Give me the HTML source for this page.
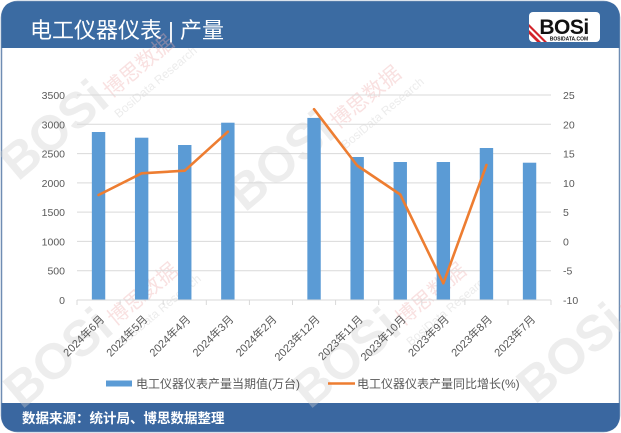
<!DOCTYPE html>
<html><head><meta charset="utf-8">
<style>
html,body{margin:0;padding:0;background:#fff;}
svg{display:block;}
text{font-family:"Liberation Sans","Noto Sans CJK SC",sans-serif;}
</style></head>
<body>
<svg width="621" height="433" viewBox="0 0 621 433" xmlns="http://www.w3.org/2000/svg">
  <!-- card -->
  <rect x="1.5" y="1.5" width="618" height="430" rx="16" ry="16" fill="#fff" stroke="#6f8db3" stroke-width="1.5"/>
  <!-- header -->
  <path d="M1.5,48 L1.5,17.5 Q1.5,1.5 17.5,1.5 L603.5,1.5 Q619.5,1.5 619.5,17.5 L619.5,48 Z" fill="#3b6ba2"/>
  <text x="30" y="38" font-size="22" fill="#fff">电工仪器仪表 | 产量</text>
  <!-- logo -->
  <rect x="529" y="12" width="71" height="30" rx="4" fill="#fff"/>
  <g clip-path="url(#lg)">
    <clipPath id="lg"><rect x="529" y="12" width="71" height="30" rx="4"/></clipPath>
    <path d="M529,30 L541,42 L537,42 L529,34 Z" fill="#d2232a"/>
    <path d="M529,24 L547,42 L544,42 L529,27 Z" fill="#d2232a"/>
  </g>
  <text x="564" y="34" font-size="21" font-weight="bold" fill="#111" text-anchor="middle" letter-spacing="-0.5">BOSi</text>
  <text x="569" y="40.5" font-size="5" font-weight="bold" fill="#111" text-anchor="middle">BOSIDATA.COM</text>

  <!-- footer -->
  <path d="M1.5,403 L619.5,403 L619.5,415.5 Q619.5,431.5 603.5,431.5 L17.5,431.5 Q1.5,431.5 1.5,415.5 Z" fill="#3a67a0"/>
  <text x="22" y="423" font-size="13.5" font-weight="bold" fill="#fff">数据来源：统计局、博思数据整理</text>

  <!-- watermarks -->
  <g opacity="0.38">
    <g transform="translate(18,182) rotate(-40)">
      <text x="0" y="0" font-size="50" font-weight="bold" fill="#d0d0d0">BOSi</text>
      <text x="125" y="-4" font-size="21" fill="#eeb0b0">博思数据</text>
      <text x="118" y="16" font-size="12" fill="#cccccc" font-family="Liberation Serif,serif">BosiData Research</text>
    </g>
    <g transform="translate(245,213) rotate(-40)">
      <text x="0" y="0" font-size="50" font-weight="bold" fill="#d0d0d0">BOSi</text>
      <text x="125" y="-4" font-size="21" fill="#eeb0b0">博思数据</text>
      <text x="118" y="16" font-size="12" fill="#cccccc" font-family="Liberation Serif,serif">BosiData Research</text>
    </g>
    <g transform="translate(22,410) rotate(-40)">
      <text x="0" y="0" font-size="50" font-weight="bold" fill="#d0d0d0">BOSi</text>
      <text x="125" y="-4" font-size="21" fill="#eeb0b0">博思数据</text>
      <text x="118" y="16" font-size="12" fill="#cccccc" font-family="Liberation Serif,serif">BosiData Research</text>
    </g>
    <g transform="translate(310,410) rotate(-40)">
      <text x="0" y="0" font-size="50" font-weight="bold" fill="#d0d0d0">BOSi</text>
      <text x="125" y="-4" font-size="21" fill="#eeb0b0">博思数据</text>
      <text x="118" y="16" font-size="12" fill="#cccccc" font-family="Liberation Serif,serif">BosiData Research</text>
    </g>
    <g transform="translate(535,405) rotate(-40)">
      <text x="0" y="0" font-size="50" font-weight="bold" fill="#d0d0d0">BOSi</text>
      <text x="125" y="-4" font-size="21" fill="#eeb0b0">博思数据</text>
    </g>
  </g>

  <!-- gridlines -->
  <g stroke="#d9d9d9" stroke-width="1">
    <line x1="77" y1="95" x2="551" y2="95"/>
    <line x1="77" y1="124.3" x2="551" y2="124.3"/>
    <line x1="77" y1="153.6" x2="551" y2="153.6"/>
    <line x1="77" y1="182.9" x2="551" y2="182.9"/>
    <line x1="77" y1="212.1" x2="551" y2="212.1"/>
    <line x1="77" y1="241.4" x2="551" y2="241.4"/>
    <line x1="77" y1="270.7" x2="551" y2="270.7"/>
  </g>

  <!-- bars -->
  <g fill="#5b9bd5">
    <rect x="91.85" y="132" width="13.4" height="168"/>
    <rect x="134.95" y="137.7" width="13.4" height="162.3"/>
    <rect x="178.05" y="145" width="13.4" height="155"/>
    <rect x="221.15" y="122.7" width="13.4" height="177.3"/>
    <rect x="307.35" y="117.9" width="13.4" height="182.1"/>
    <rect x="350.45" y="157" width="13.4" height="143"/>
    <rect x="393.55" y="162" width="13.4" height="138"/>
    <rect x="436.65" y="162" width="13.4" height="138"/>
    <rect x="479.75" y="148" width="13.4" height="152"/>
    <rect x="522.85" y="162.7" width="13.4" height="137.3"/>
  </g>

  <!-- axis line + ticks -->
  <g stroke="#d9d9d9" stroke-width="1">
    <line x1="77" y1="300" x2="551" y2="300"/>
    <line x1="77" y1="300" x2="77" y2="305"/>
    <line x1="120.1" y1="300" x2="120.1" y2="305"/>
    <line x1="163.2" y1="300" x2="163.2" y2="305"/>
    <line x1="206.3" y1="300" x2="206.3" y2="305"/>
    <line x1="249.4" y1="300" x2="249.4" y2="305"/>
    <line x1="292.5" y1="300" x2="292.5" y2="305"/>
    <line x1="335.6" y1="300" x2="335.6" y2="305"/>
    <line x1="378.7" y1="300" x2="378.7" y2="305"/>
    <line x1="421.8" y1="300" x2="421.8" y2="305"/>
    <line x1="464.9" y1="300" x2="464.9" y2="305"/>
    <line x1="508" y1="300" x2="508" y2="305"/>
    <line x1="551" y1="300" x2="551" y2="305"/>
  </g>

  <!-- line series -->
  <g fill="none" stroke="#ed7d31" stroke-width="2.6" stroke-linejoin="round" stroke-linecap="round">
    <polyline points="98.55,195 141.65,173.3 184.75,170.7 227.85,131.7"/>
    <polyline points="314.05,109.2 357.15,165.5 400.25,194.5 443.35,283.3 486.45,165"/>
  </g>

  <!-- left axis labels -->
  <g font-size="10.5" fill="#595959" text-anchor="end">
    <text x="65" y="99">3500</text>
    <text x="65" y="128.3">3000</text>
    <text x="65" y="157.6">2500</text>
    <text x="65" y="186.9">2000</text>
    <text x="65" y="216.1">1500</text>
    <text x="65" y="245.4">1000</text>
    <text x="65" y="274.7">500</text>
    <text x="65" y="304">0</text>
  </g>
  <!-- right axis labels -->
  <g font-size="10.5" fill="#595959">
    <text x="563" y="99">25</text>
    <text x="563" y="128.3">20</text>
    <text x="563" y="157.6">15</text>
    <text x="563" y="186.9">10</text>
    <text x="563" y="216.1">5</text>
    <text x="563" y="245.4">0</text>
    <text x="563" y="274.7">-5</text>
    <text x="563" y="304">-10</text>
  </g>

  <!-- category labels -->
  <g font-size="11" fill="#595959" text-anchor="end">
    <text transform="translate(105,320) rotate(-45)">2024年6月</text>
    <text transform="translate(148.1,320) rotate(-45)">2024年5月</text>
    <text transform="translate(191.2,320) rotate(-45)">2024年4月</text>
    <text transform="translate(234.3,320) rotate(-45)">2024年3月</text>
    <text transform="translate(277.4,320) rotate(-45)">2024年2月</text>
    <text transform="translate(320.5,320) rotate(-45)">2023年12月</text>
    <text transform="translate(363.6,320) rotate(-45)">2023年11月</text>
    <text transform="translate(406.7,320) rotate(-45)">2023年10月</text>
    <text transform="translate(449.8,320) rotate(-45)">2023年9月</text>
    <text transform="translate(492.9,320) rotate(-45)">2023年8月</text>
    <text transform="translate(536,320) rotate(-45)">2023年7月</text>
  </g>

  <!-- legend -->
  <rect x="106" y="380.5" width="26" height="6" fill="#5b9bd5"/>
  <text x="136" y="388" font-size="12" fill="#595959">电工仪器仪表产量当期值(万台)</text>
  <line x1="328" y1="383.5" x2="355" y2="383.5" stroke="#ed7d31" stroke-width="2.6"/>
  <text x="357" y="388" font-size="12" fill="#595959">电工仪器仪表产量同比增长(%)</text>
</svg>
</body></html>
